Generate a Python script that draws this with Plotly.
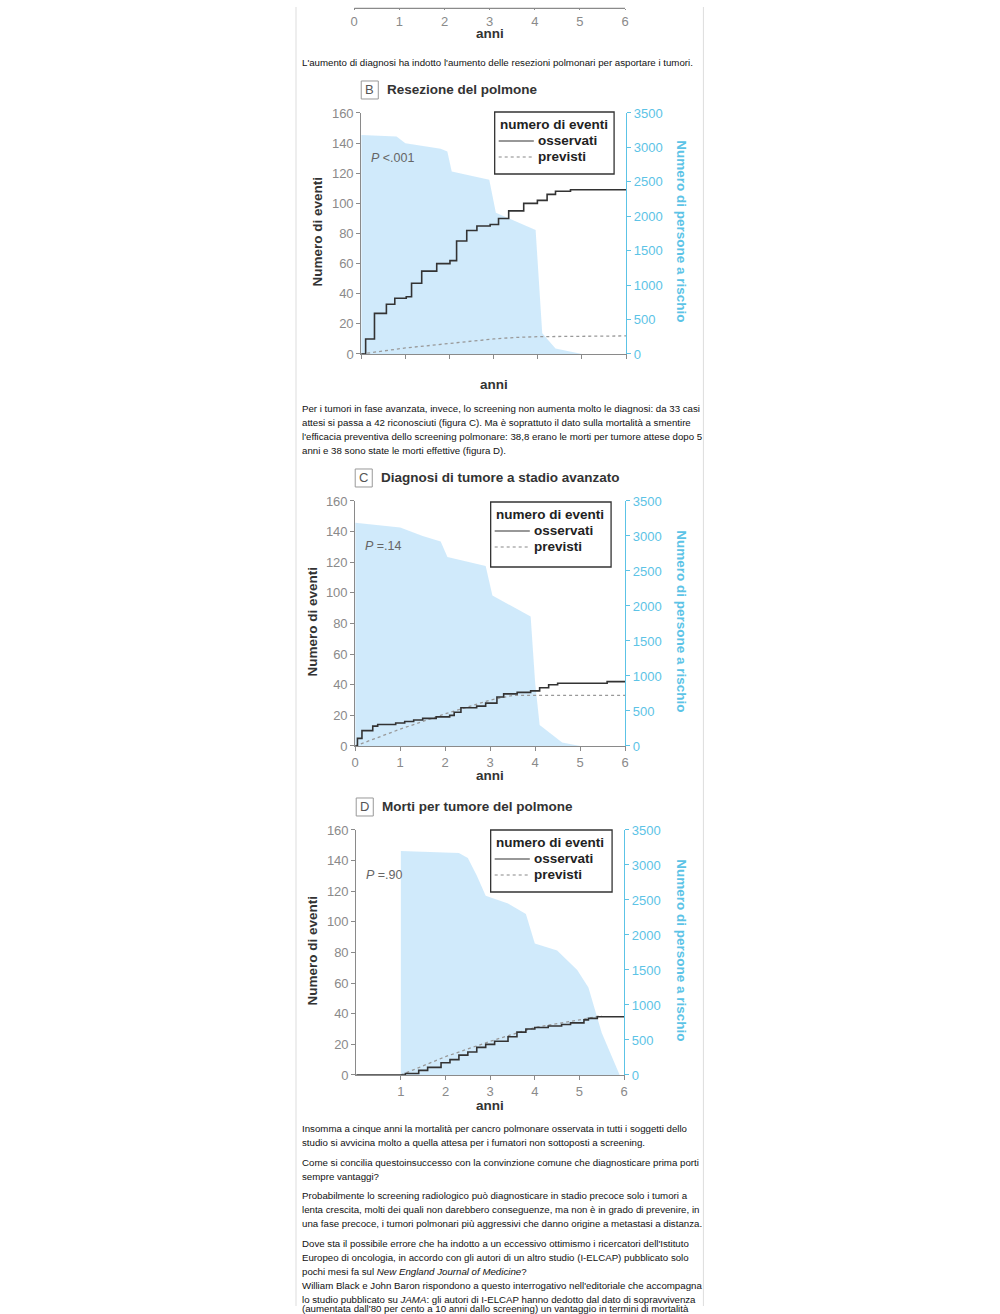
import plotly.graph_objects as go

W, H = 1000, 1314

# ---- data: panel B (resezione del polmone)
b_obs_t = [0, 0.1, 0.3, 0.57, 0.76, 1.02, 1.14, 1.37, 1.71, 2.01, 2.16, 2.39, 2.62, 2.92,
           3.11, 3.34, 3.68, 3.99, 4.21, 4.4, 4.74, 6]
b_obs_v = [0, 10, 27, 33, 37, 38, 47, 55, 60, 62, 75, 82, 85, 86, 90, 95, 100, 102, 106, 108,
           109, 109]
b_exp_t = [0, 1, 2, 3, 3.5, 4, 6]
b_exp_v = [0, 4, 7, 10, 11, 11.5, 12]
b_risk_t = [0, 0.8, 1.0, 1.8, 1.95, 2.05, 2.9, 3.05, 3.95, 4.1, 4.4, 5, 6]
b_risk_v = [3180, 3160, 3060, 2980, 2940, 2650, 2530, 2050, 1800, 300, 80, 0, 0]

# ---- panel C (diagnosi di tumore a stadio avanzato)
c_obs_t = [0, 0.05, 0.15, 0.39, 0.5, 0.9, 1.1, 1.3, 1.5, 1.8, 2.1, 2.2, 2.35, 2.7, 2.9, 3.15,
           3.3, 3.6, 3.9, 4.1, 4.3, 4.5, 5.6, 6]
c_obs_v = [0, 5, 10, 13, 14, 15, 16, 17, 18, 19, 20, 22, 25, 26, 28, 32, 34, 35, 36, 38, 40,
           41, 42, 42]
c_exp_t = [0, 1, 2, 3, 3.5, 6]
c_exp_v = [0, 11, 21, 30, 33, 33]
c_risk_t = [0, 1, 1.5, 1.9, 2.05, 2.9, 3.05, 3.9, 4.0, 4.1, 4.6, 5, 6]
c_risk_v = [3190, 3120, 3000, 2920, 2700, 2570, 2150, 1850, 900, 300, 50, 0, 0]

# ---- panel D (morti per tumore del polmone)
d_obs_t = [0, 1.0, 1.1, 1.4, 1.6, 1.9, 2.1, 2.3, 2.5, 2.7, 2.9, 3.1, 3.4, 3.6, 3.8, 4.0, 4.3,
           4.6, 4.8, 5.1, 5.2, 5.4, 6]
d_obs_v = [0, 0, 1, 3, 5, 8, 10, 13, 15, 18, 20, 22, 25, 28, 30, 31, 32, 33, 34, 36, 37, 38, 38]
d_exp_t = [1, 1.5, 2, 3, 4, 5, 5.5]
d_exp_v = [0, 6, 12, 22, 31, 36, 38.8]
d_risk_t = [1, 2.3, 2.5, 2.7, 2.9, 3.4, 3.8, 4.0, 4.5, 4.95, 5.2, 5.5, 5.9]
d_risk_v = [3200, 3170, 3100, 2850, 2560, 2450, 2300, 1880, 1780, 1500, 1250, 600, 0]

years = [0, 1, 2, 3, 4, 5, 6]
left_ticks = [0, 20, 40, 60, 80, 100, 120, 140, 160]
right_ticks = [0, 500, 1000, 1500, 2000, 2500, 3000, 3500]

GREY = "#8a8a8a"
CYAN = "#5cc3e6"
FILL = "rgba(200,230,250,0.85)"
FONT = "Liberation Sans, Arial, sans-serif"

# the page photo comes out slightly scaled, so target pixels are mapped back
S, OX, OY = 0.9886, 6, 7


def fx(p):
    return min(max((p - OX) / S / W, 0), 1)


def fy(p):
    return min(max(1 - (p - OY) / S / H, 0), 1)


def note(x, y, text, **kw):
    d = dict(x=fx(x), y=fy(y), text=text, xref="paper", yref="paper", showarrow=False,
             xanchor="center", yanchor="middle")
    d.update(kw)
    return d


panels = [
    dict(box=(362, 626, 113, 354), letter="B", title="Resezione del polmone", p="P <.001",
         obs=(b_obs_t, b_obs_v), exp=(b_exp_t, b_exp_v), risk=(b_risk_t, b_risk_v),
         xlabels=False, zero=True, anni=385, legend=(495, 614, 112, 174), ytit=318),
    dict(box=(356, 625, 501, 746), letter="C", title="Diagnosi di tumore a stadio avanzato",
         p="P =.14", obs=(c_obs_t, c_obs_v), exp=(c_exp_t, c_exp_v), risk=(c_risk_t, c_risk_v),
         xlabels=True, zero=True, anni=776, legend=(491, 611, 502, 567), ytit=313),
    dict(box=(357, 624, 830, 1075), letter="D", title="Morti per tumore del polmone",
         p="P =.90", obs=(d_obs_t, d_obs_v), exp=(d_exp_t, d_exp_v), risk=(d_risk_t, d_risk_v),
         xlabels=True, zero=False, anni=1106, legend=(491, 612, 830, 892), ytit=313),
]

fig = go.Figure()
layout = dict(width=W, height=H, margin=dict(l=0, r=0, t=0, b=0), showlegend=False,
              plot_bgcolor="white", paper_bgcolor="white", font=dict(family=FONT))
annotations = []
shapes = []

for k, pn in enumerate(panels):
    x0, x1, yt, yb = pn["box"]
    xs = "" if k == 0 else str(k + 1)
    yr = "" if k == 0 else str(2 * k + 1)
    yl = str(2 * k + 2)
    fig.add_trace(go.Scatter(x=pn["risk"][0], y=pn["risk"][1], mode="lines", fill="tozeroy",
                             fillcolor=FILL, line=dict(width=0, color=FILL),
                             xaxis="x" + xs, yaxis="y" + yr, hoverinfo="skip"))
    fig.add_trace(go.Scatter(x=pn["exp"][0], y=pn["exp"][1], mode="lines",
                             line=dict(color="#999999", width=1.3, dash="dot"),
                             xaxis="x" + xs, yaxis="y" + yl))
    fig.add_trace(go.Scatter(x=pn["obs"][0], y=pn["obs"][1], mode="lines", line_shape="hv",
                             line=dict(color="#333333", width=1.6),
                             xaxis="x" + xs, yaxis="y" + yl))
    tv = years if pn["zero"] else years[1:]
    layout["xaxis" + xs] = dict(domain=[fx(x0), fx(x1)], range=[0, 6], anchor="y" + yl,
                                showgrid=False, zeroline=False, showline=True, linecolor=GREY,
                                ticks="outside", ticklen=4, tickcolor=GREY, tickvals=tv,
                                showticklabels=pn["xlabels"],
                                tickfont=dict(size=13, color=GREY))
    layout["yaxis" + yr] = dict(domain=[fy(yb), fy(yt)], range=[0, 3500], anchor="x" + xs,
                                side="right", showgrid=False, zeroline=False, showline=True,
                                linecolor=CYAN, ticks="outside", ticklen=4, tickcolor=CYAN,
                                tickvals=right_ticks, tickfont=dict(size=13, color=CYAN))
    layout["yaxis" + yl] = dict(domain=[fy(yb), fy(yt)], range=[0, 160], anchor="x" + xs,
                                overlaying="y" + yr, side="left", showgrid=False,
                                zeroline=False, showline=True, linecolor=GREY,
                                ticks="outside", ticklen=4, tickcolor=GREY,
                                tickvals=left_ticks, tickfont=dict(size=13, color=GREY))
    # letter box and title
    ty = yt - 23
    shapes.append(dict(type="rect", xref="paper", yref="paper", x0=fx(x0), x1=fx(x0 + 17),
                       y0=fy(ty + 9), y1=fy(ty - 9), line=dict(color="#999", width=1)))
    annotations.append(note(x0 + 8.5, ty, pn["letter"], font=dict(size=13, color="#555")))
    annotations.append(note(x0 + 24, ty, "<b>" + pn["title"] + "</b>", xanchor="left",
                            font=dict(size=13.5, color="#333")))
    annotations.append(note(x0 + 8, yt + 45, "<i>" + pn["p"][0] + "</i>" + pn["p"][1:],
                            xanchor="left", font=dict(size=12.5, color="#666")))
    annotations.append(note((x0 + x1) / 2, pn["anni"], "<b>anni</b>",
                            font=dict(size=13.5, color="#333")))
    annotations.append(note(pn["ytit"], (yt + yb) / 2 - 2, "<b>Numero di eventi</b>",
                            textangle=-90, font=dict(size=13.5, color="#333")))
    annotations.append(note(681, (yt + yb) / 2 - 2, "<b>Numero di persone a rischio</b>",
                            textangle=90, font=dict(size=13.5, color=CYAN)))
    # legend box
    lx0, lx1, ly0, ly1 = pn["legend"]
    shapes.append(dict(type="rect", xref="paper", yref="paper", x0=fx(lx0), x1=fx(lx1),
                       y0=fy(ly1), y1=fy(ly0), line=dict(color="#333", width=1.3),
                       fillcolor="white", layer="above"))
    annotations.append(note(lx0 + 3, ly0 + 13, "<b>numero di eventi</b>", xanchor="left",
                            font=dict(size=13.5, color="#222")))
    annotations.append(note(lx0 + 41, ly0 + 29, "<b>osservati</b>", xanchor="left",
                            font=dict(size=13.5, color="#222")))
    annotations.append(note(lx0 + 41, ly0 + 45, "<b>previsti</b>", xanchor="left",
                            font=dict(size=13.5, color="#222")))
    shapes.append(dict(type="line", xref="paper", yref="paper", x0=fx(lx0 + 4),
                       x1=fx(lx0 + 39), y0=fy(ly0 + 29), y1=fy(ly0 + 29),
                       line=dict(color="#333", width=1.2)))
    shapes.append(dict(type="line", xref="paper", yref="paper", x0=fx(lx0 + 4),
                       x1=fx(lx0 + 39), y0=fy(ly0 + 45), y1=fy(ly0 + 45),
                       line=dict(color="#888", width=1.2, dash="dot")))

# partial chart at the very top (only its x axis is visible)
fig.add_trace(go.Scatter(x=[0, 6], y=[0, 0], mode="lines", line=dict(color=GREY, width=0.5),
                         xaxis="x4", yaxis="y7", hoverinfo="skip"))
layout["xaxis4"] = dict(domain=[fx(355), fx(625)], range=[0, 6], anchor="y7", tickvals=years,
                        showgrid=False, zeroline=False, showline=True, linecolor=GREY,
                        ticks="outside", ticklen=1, tickcolor=GREY,
                        tickfont=dict(size=13, color=GREY))
layout["yaxis7"] = dict(domain=[fy(8), 1], range=[0, 1], anchor="x4", visible=False)
annotations.append(note(490, 34, "<b>anni</b>", font=dict(size=13.5, color="#333")))

# body text, one line each
text_lines = [
    (63, "L'aumento di diagnosi ha indotto l'aumento delle resezioni polmonari per asportare i tumori."),
    (409, "Per i tumori in fase avanzata, invece, lo screening non aumenta molto le diagnosi: da 33 casi"),
    (423, "attesi si passa a 42 riconosciuti (figura C). Ma è soprattuto il dato sulla mortalità a smentire"),
    (437, "l'efficacia preventiva dello screening polmonare: 38,8 erano le morti per tumore attese dopo 5"),
    (451, "anni e 38 sono state le morti effettive (figura D)."),
    (1129, "Insomma a cinque anni la mortalità per cancro polmonare osservata in tutti i soggetti dello"),
    (1143, "studio si avvicina molto a quella attesa per i fumatori non sottoposti a screening."),
    (1163, "Come si concilia questoinsuccesso con la convinzione comune che diagnosticare prima porti"),
    (1177, "sempre vantaggi?"),
    (1196, "Probabilmente lo screening radiologico può diagnosticare in stadio precoce solo i tumori a"),
    (1210, "lenta crescita, molti dei quali non darebbero conseguenze, ma non è in grado di prevenire, in"),
    (1224, "una fase precoce, i tumori polmonari più aggressivi che danno origine a metastasi a distanza."),
    (1244, "Dove sta il possibile errore che ha indotto a un eccessivo ottimismo i ricercatori dell'Istituto"),
    (1258, "Europeo di oncologia, in accordo con gli autori di un altro studio (I-ELCAP) pubblicato solo"),
    (1272, "pochi mesi fa sul <i>New England Journal of Medicine</i>?"),
    (1286, "William Black e John Baron rispondono a questo interrogativo nell'editoriale che accompagna"),
    (1300, "lo studio pubblicato su <i>JAMA</i>: gli autori di I-ELCAP hanno dedotto dal dato di sopravvivenza"),
]
for y, t in text_lines:
    annotations.append(note(301, y, t, xanchor="left", font=dict(size=9.7, color="#111")))
# last line is cut by the bottom of the page
annotations.append(note(301, 1400, "(aumentata dall'80 per cento a 10 anni dallo screening) "
                        "un vantaggio in termini di mortalità", xanchor="left", yanchor="top",
                        yshift=5, font=dict(size=9.7, color="#111")))

# page column borders
for bx in (297, 703):
    shapes.append(dict(type="line", xref="paper", yref="paper", x0=fx(bx), x1=fx(bx), y0=0,
                       y1=1, line=dict(color="#dddddd", width=1)))

layout["annotations"] = annotations
layout["shapes"] = shapes
fig.update_layout(**layout)
fig.write_html("out.html", config={"displayModeBar": False},
               post_script="document.body.style.margin='0';"
                           "document.body.style.overflow='hidden';")
